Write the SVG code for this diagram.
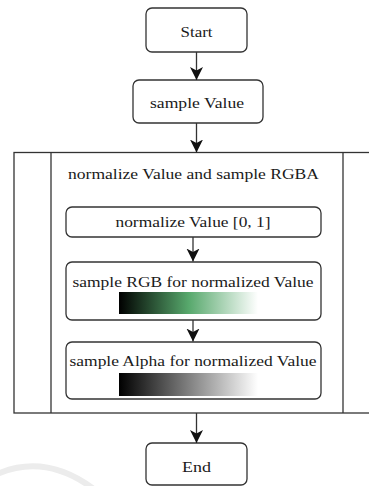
<svg xmlns="http://www.w3.org/2000/svg" width="369" height="486" viewBox="0 0 369 486">
<style>
.box{fill:#fff;stroke:#333;stroke-width:1.3}
.cont{fill:#fff;stroke:#333;stroke-width:1.3}
.t{font-family:"Liberation Serif","Times New Roman",serif;font-size:15.5px;fill:#1a1a1a;text-anchor:middle}
.edge{stroke:#333;stroke-width:1.3;fill:none;marker-end:url(#ah)}
</style>
<defs>
<marker id="ah" markerWidth="14" markerHeight="14" viewBox="0 0 14 14" refX="13" refY="7" orient="auto" markerUnits="userSpaceOnUse">
<path d="M0,0.5 L13,7 L0,13.5 L3.5,7 Z" fill="#111"/>
</marker>
<linearGradient id="gRGB" x1="0" x2="1" y1="0" y2="0">
<stop offset="0" stop-color="#000"/>
<stop offset="0.5" stop-color="#57a86c"/>
<stop offset="1" stop-color="#fff"/>
</linearGradient>
<linearGradient id="gA" x1="0" x2="1" y1="0" y2="0">
<stop offset="0" stop-color="#000"/>
<stop offset="1" stop-color="#fff"/>
</linearGradient>
</defs>
<rect width="369" height="486" fill="#fff"/>
<path d="M-5,475 Q45,452 95,490" fill="none" stroke="#ececec" stroke-width="6"/>
<g id="start">
<rect class="box" x="146" y="8" width="101" height="44" rx="6"/>
<text class="t" x="196.5" y="36.5" textLength="32" lengthAdjust="spacingAndGlyphs">Start</text>
</g>
<g id="sampleValue">
<rect class="box" x="133" y="80" width="130" height="43" rx="6"/>
<text class="t" x="197" y="108" textLength="94" lengthAdjust="spacingAndGlyphs">sample Value</text>
</g>
<g id="container">
<rect class="cont" x="14" y="152.5" width="366" height="260.5"/>
<line x1="51" y1="152.5" x2="51" y2="413" stroke="#333" stroke-width="1.3"/>
<line x1="343" y1="152.5" x2="343" y2="413" stroke="#333" stroke-width="1.3"/>
<text class="t" x="193.5" y="178.5" textLength="251" lengthAdjust="spacingAndGlyphs">normalize Value and sample RGBA</text>
</g>
<g id="normalize">
<rect class="box" x="66" y="207" width="255" height="30" rx="6"/>
<text class="t" x="193" y="226.5" textLength="155" lengthAdjust="spacingAndGlyphs">normalize Value [0, 1]</text>
</g>
<g id="sampleRGB">
<rect class="box" x="66" y="262" width="255" height="58" rx="6"/>
<text class="t" x="193" y="287" textLength="241" lengthAdjust="spacingAndGlyphs">sample RGB for normalized Value</text>
<rect x="119" y="292" width="139" height="22" fill="url(#gRGB)"/>
</g>
<g id="sampleAlpha">
<rect class="box" x="66" y="342" width="255" height="57" rx="6"/>
<text class="t" x="193" y="366" textLength="247" lengthAdjust="spacingAndGlyphs">sample Alpha for normalized Value</text>
<rect x="119" y="373" width="139" height="23" fill="url(#gA)"/>
</g>
<g id="end">
<rect class="box" x="146" y="443" width="101" height="42" rx="6"/>
<text class="t" x="196.5" y="471.5" textLength="29" lengthAdjust="spacingAndGlyphs">End</text>
</g>
<g id="connectors">
<line class="edge" x1="196.5" y1="52" x2="196.5" y2="80"/>
<line class="edge" x1="196.5" y1="123" x2="196.5" y2="152.5"/>
<line class="edge" x1="193" y1="237" x2="193" y2="261.5"/>
<line class="edge" x1="193" y1="320" x2="193" y2="341.5"/>
<line class="edge" x1="196.5" y1="413" x2="196.5" y2="443"/>
</g>
</svg>
